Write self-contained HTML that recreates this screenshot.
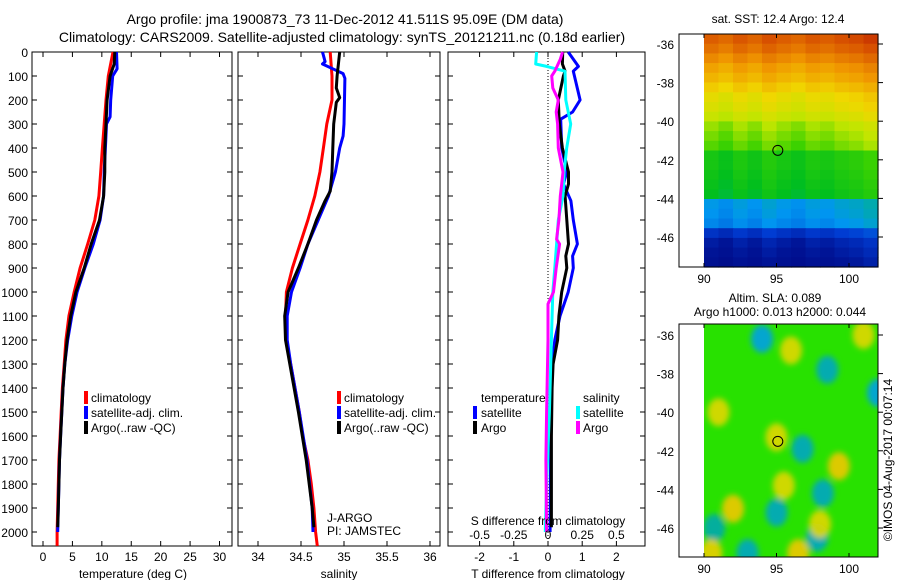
<!DOCTYPE html>
<html><head><meta charset="utf-8"><style>
html,body{margin:0;padding:0;background:#fff;}
svg{display:block;font-family:"Liberation Sans",sans-serif;}
</style></head><body>
<svg id="c" width="900" height="580" viewBox="0 0 900 580">
<defs><filter id="blur" x="-50%" y="-50%" width="200%" height="200%"><feGaussianBlur stdDeviation="3"/></filter></defs>
<text x="345" y="24" font-size="14" text-anchor="middle">Argo profile: jma 1900873_73 11-Dec-2012 41.511S 95.09E (DM data)</text>
<text x="342" y="42" font-size="14" text-anchor="middle">Climatology: CARS2009. Satellite-adjusted climatology: synTS_20121211.nc (0.18d earlier)</text>
<text x="778" y="23" font-size="12" text-anchor="middle">sat. SST: 12.4 Argo: 12.4</text>
<text x="775" y="302" font-size="12" text-anchor="middle">Altim. SLA: 0.089</text>
<text x="780" y="316" font-size="12" text-anchor="middle">Argo h1000: 0.013 h2000: 0.044</text>
<text transform="translate(892,460) rotate(-90)" font-size="12" text-anchor="middle">©IMOS 04-Aug-2017 00:07:14</text>
<g id="plots"></g>
</svg>
<script>
// ---------- data ----------
const tempClimDepth=[0,100,200,300,400,500,600,700,800,900,1000,1100,1200,1300,1400,1500,1600,1700,1800,1900,2000,2058];
const tempClim=[11.9,11.1,10.7,10.4,10.1,9.8,9.5,8.8,7.6,6.3,5.3,4.4,3.9,3.6,3.3,3.1,2.9,2.7,2.6,2.5,2.4,2.4];
const tempSatDepth=[0,70,100,200,270,300,400,500,600,700,800,900,1000,1100,1200,1300,1400,1500,1600,1700,1800,1900,2000];
const tempSat=[12.5,12.6,11.85,11.5,11.4,10.8,10.6,10.4,10.3,9.7,8.55,7.1,5.8,4.9,4.2,3.7,3.4,3.2,3.0,2.8,2.7,2.6,2.5];
const tempArgoDepth=[0,50,100,200,300,400,500,600,700,800,900,1000,1100,1200,1300,1400,1500,1600,1700,1800,1900,1980];
const tempArgo=[12.2,12.1,11.4,10.9,10.7,10.5,10.5,10.3,9.6,8.2,7.0,5.6,4.7,4.1,3.7,3.4,3.2,3.0,2.8,2.7,2.6,2.5];
const salClimDepth=[0,100,200,300,400,500,600,700,800,900,1000,1100,1200,1300,1400,1500,1600,1700,1800,1900,2000,2058];
const salClim=[34.84,34.86,34.86,34.80,34.76,34.72,34.66,34.58,34.49,34.40,34.33,34.32,34.33,34.38,34.43,34.48,34.52,34.58,34.62,34.65,34.67,34.69];
const salSatDepth=[0,40,50,70,90,110,300,350,400,500,600,700,800,900,1000,1100,1200,1300,1500,1700,1900,2000];
const salSat=[34.75,34.78,34.75,34.87,34.99,35.01,35.0,34.99,34.95,34.9,34.82,34.70,34.58,34.49,34.39,34.34,34.34,34.38,34.48,34.57,34.63,34.64];
const salArgoDepth=[0,100,150,190,210,300,400,500,580,620,700,800,900,1000,1100,1200,1300,1500,1700,1900,1980];
const salArgo=[34.95,34.92,34.91,34.95,34.91,34.88,34.87,34.86,34.84,34.78,34.68,34.58,34.47,34.35,34.31,34.32,34.37,34.47,34.56,34.63,34.65];
const dTSatDepth=[0,60,80,200,250,280,400,500,550,620,700,800,850,900,1000,1100,1200,1300,1500,1800,2000];
const dTSat=[0.59,0.89,0.74,0.94,0.72,0.37,0.40,0.55,0.45,0.67,0.74,0.86,0.72,0.74,0.59,0.35,0.20,0.12,0.09,0.07,0.06];
const dTArgoDepth=[0,50,80,100,200,300,400,500,550,600,700,800,850,900,1000,1100,1200,1300,1400,1600,1980];
const dTArgo=[0.43,0.42,0.5,0.45,0.3,0.33,0.42,0.6,0.6,0.5,0.55,0.6,0.52,0.55,0.4,0.32,0.28,0.15,0.12,0.1,0.1];
const dSSatDepth=[0,50,60,80,200,300,400,500,600,700,800,900,1000,1100,1200,1500,1800,2000];
const dSSat=[-0.083,-0.09,-0.01,0.124,0.13,0.166,0.137,0.118,0.11,0.075,0.063,0.05,0.035,0.03,0.025,0.01,-0.01,-0.02];
const dSArgoDepth=[0,30,80,100,150,200,250,300,400,500,550,600,700,780,800,900,1000,1050,1200,1500,1700,2000];
const dSArgo=[0.107,0.09,0.05,0.027,0.035,0.075,0.06,0.07,0.075,0.11,0.1,0.09,0.08,0.063,0.085,0.06,0.04,0.0,0.0,-0.01,-0.015,-0.01];
const depthTicks=[0,100,200,300,400,500,600,700,800,900,1000,1100,1200,1300,1400,1500,1600,1700,1800,1900,2000];
const tempTicks=[0,5,10,15,20,25,30];
const salTicks=[34,34.5,35,35.5,36];
const salTickLabels=["34","34.5","35","35.5","36"];
const dTTicks=[-2,-1,0,1,2];
const dSTicks=[-0.5,-0.25,0,0.25,0.5];
const dSTickLabels=["-0.5","-0.25","0","0.25","0.5"];
// SST map: latitude bands (-35.5 .. -47.5, 0.5 deg) and column perturbations (deg C)
const sstRows=[17.2,16.9,16.5,16.1,15.8,15.4,15.0,14.8,14.5,14.1,13.9,13.7,13.0,13.0,12.9,12.8,12.7,11.1,11.0,10.8,9.5,9.0,8.8,8.6];
const sstColOffset=[0.0,-0.2,0.1,-0.1,0.2,0.0,-0.15,0.1,0.0,0.2,0.3,0.5];
const mapLons=[90,95,100];
const mapLats=[-36,-38,-40,-42,-44,-46];
const slaLon=[94,98.5,102,96.8,98.2,95,97.8,93,90.7,92,95,99.3,95.5,91,96,96.5,98,101,90.5];
const slaLat=[-36.2,-37.8,-39,-41.9,-44.2,-45.2,-46.5,-47.3,-46,-45,-41.3,-42.8,-43.8,-40,-36.8,-47.3,-45.8,-36,-47.3];
const slaVal=[-0.25,-0.15,-0.25,-0.15,-0.15,-0.15,-0.15,-0.15,-0.12,0.2,0.15,0.2,0.15,0.15,0.15,0.2,0.15,0.15,0.18];

// ---------- drawing ----------
const NS='http://www.w3.org/2000/svg';
const root=document.getElementById('plots');
function mk(tag,attrs,parent){const e=document.createElementNS(NS,tag);for(const k in attrs)e.setAttribute(k,attrs[k]);(parent||root).appendChild(e);return e;}
const Y0=52, Y1=546;
const yD=d=>Y0+d*0.24;
function linX(d0,d1,p0,p1){return v=>p0+(v-d0)*(p1-p0)/(d1-d0);}
const xT=linX(0,30,43,219.5);
const xS=linX(34,36,258,430);
const xDT=linX(0,2,548,616.4);
const xDS=linX(0,0.5,548,616.4);
function frame(x0,x1,name){
  const r=mk('rect',{x:x0,y:Y0,width:x1-x0,height:Y1-Y0,fill:'none',stroke:'#000','stroke-width':1});
  
  
  depthTicks.forEach(d=>{mk('line',{x1:x0,x2:x0+5,y1:yD(d),y2:yD(d),stroke:'#000'});mk('line',{x1:x1,x2:x1-5,y1:yD(d),y2:yD(d),stroke:'#000'});});
}
function series(xs,ds,fx,color,name){
  const pts=xs.map((v,i)=>fx(v).toFixed(1)+','+yD(ds[i]).toFixed(1)).join(' ');
  const p=mk('polyline',{points:pts,fill:'none',stroke:color,'stroke-width':3,'stroke-linejoin':'round'});
  
  
}
function xticks(ticks,labels,fx,x0,x1,ly,name,both){
  ticks.forEach((t,i)=>{const x=fx(t);
    if(both){mk('line',{x1:x,x2:x,y1:Y1,y2:Y1-5,stroke:'#000'});mk('line',{x1:x,x2:x,y1:Y0,y2:Y0+5,stroke:'#000'});}
    const tx=mk('text',{x:x,y:ly,'font-size':12,'text-anchor':'middle'});tx.textContent=labels[i];
    
    
  });
}
function label(x,y,txt,name,anchor,size){const t=mk('text',{x:x,y:y,'font-size':size||12,'text-anchor':anchor||'start'});t.textContent=txt;
  
  }
function legendBar(x,y,color,name){const r=mk('rect',{x:x,y:y-11,width:4,height:13,fill:color});
  
  }

// panel 1: temperature
frame(32,232,'temperature-axes');
depthTicks.forEach(d=>label(28,yD(d)+5,String(d),'depth-tick-label','end'));
series(tempClim,tempClimDepth,xT,'#f00','temp-climatology-line');
series(tempSat,tempSatDepth,xT,'#00f','temp-satellite-line');
series(tempArgo,tempArgoDepth,xT,'#000','temp-argo-line');
xticks(tempTicks,tempTicks.map(String),xT,32,232,561,'temperature',true);
label(133,578,'temperature (deg C)','temperature-axis-title','middle');
[['#f00','climatology'],['#00f','satellite-adj. clim.'],['#000','Argo(..raw -QC)']].forEach((l,i)=>{legendBar(84,402+i*15,l[0],'temp-legend-swatch');label(91,402+i*15,l[1],'temp-legend-entry');});

// panel 2: salinity
frame(238,440,'salinity-axes');
series(salClim,salClimDepth,xS,'#f00','sal-climatology-line');
series(salSat,salSatDepth,xS,'#00f','sal-satellite-line');
series(salArgo,salArgoDepth,xS,'#000','sal-argo-line');
xticks(salTicks,salTickLabels,xS,238,440,561,'salinity',true);
label(339,578,'salinity','salinity-axis-title','middle');
[['#f00','climatology'],['#00f','satellite-adj. clim.'],['#000','Argo(..raw -QC)']].forEach((l,i)=>{legendBar(337,402+i*15,l[0],'sal-legend-swatch');label(344,402+i*15,l[1],'sal-legend-entry');});
label(327,522,'J-ARGO','data-center-label');
label(327,535,'PI: JAMSTEC','pi-label');

// panel 3: differences
frame(448,645,'difference-axes');
mk('line',{x1:xDT(0),x2:xDT(0),y1:Y0,y2:Y1,stroke:'#000','stroke-dasharray':'1,2'});
series(dTSat,dTSatDepth,xDT,'#00f','dT-satellite-line');
series(dTArgo,dTArgoDepth,xDT,'#000','dT-argo-line');
series(dSSat,dSSatDepth,xDS,'#0ff','dS-satellite-line');
series(dSArgo,dSArgoDepth,xDS,'#f0f','dS-argo-line');
xticks(dTTicks,dTTicks.map(String),xDT,448,645,561,'t-difference',true);
xticks(dSTicks,dSTickLabels,xDS,448,645,539,'s-difference',false);
label(548,525,'S difference from climatology','s-difference-title','middle');
label(548,578,'T difference from climatology','t-difference-title','middle');
label(481,402,'temperature','legend-temperature-header');
label(583,402,'salinity','legend-salinity-header');
legendBar(473,417,'#00f','dT-sat-swatch');label(481,417,'satellite','legend-entry');
legendBar(473,432,'#000','dT-argo-swatch');label(481,432,'Argo','legend-entry');
legendBar(576,417,'#0ff','dS-sat-swatch');label(583,417,'satellite','legend-entry');
legendBar(576,432,'#f0f','dS-argo-swatch');label(583,432,'Argo','legend-entry');

// colour maps
function ramp(stops,t){t=Math.max(0,Math.min(1,t));
  for(let i=1;i<stops.length;i++){if(t<=stops[i][0]){const a=stops[i-1],b=stops[i],f=(t-a[0])/(b[0]-a[0]);
    return 'rgb('+[1,2,3].map(k=>Math.round(a[k]+(b[k]-a[k])*f)).join(',')+')';}}
  const l=stops[stops.length-1];return 'rgb('+l[1]+','+l[2]+','+l[3]+')';}
const sstStops=[[0,0,0,120],[0.12,0,20,150],[0.2,0,60,210],[0.32,0,150,240],[0.4,0,180,140],[0.47,0,190,30],[0.55,60,210,0],[0.62,190,230,0],[0.7,240,215,0],[0.8,240,150,0],[0.9,215,80,0],[1,170,0,0]];
const slaStops=[[0,0,160,230],[0.25,0,170,160],[0.5,40,225,0],[0.75,210,230,0],[1,240,200,0]];
const sstT=v=>(v-7.5)/11;
const slaT=v=>0.5+v/0.4;
const lonX=linX(90,100,704,849);
// top SST map
const sTop=34, sBot=267, latYs=linX(-36,-46,44,237);
const g1=mk('g',{});


const cw=(878-704)/sstColOffset.length, rh=(sBot-sTop)/sstRows.length;
sstRows.forEach((v,i)=>sstColOffset.forEach((o,j)=>{
  const c=mk('rect',{x:(704+j*cw).toFixed(1),y:(sTop+i*rh).toFixed(1),width:(cw+0.6).toFixed(1),height:(rh+0.6).toFixed(1),fill:ramp(sstStops,sstT(v+o))},g1);
  
  
}));
// bottom SLA map
const bTop=324,bBot=557,latYb=linX(-36,-46,335,528);
const g2=mk('g',{});


const bg=mk('rect',{x:704,y:bTop,width:174,height:bBot-bTop,fill:ramp(slaStops,slaT(0))},g2);


const clip=mk('clipPath',{id:'slaclip'});mk('rect',{x:704,y:bTop,width:174,height:bBot-bTop},clip);
const gc=mk('g',{'clip-path':'url(#slaclip)'},g2);
const gb=mk('g',{filter:'url(#blur)'},gc);
slaLon.forEach((lo,i)=>{const e=mk('ellipse',{cx:lonX(lo),cy:latYb(slaLat[i]),rx:11,ry:14,fill:ramp(slaStops,slaT(slaVal[i])),opacity:0.9},gb);
  
  });
// frames, ticks, markers for both maps
[[sTop,sBot,latYs,'sst'],[bTop,bBot,latYb,'sla']].forEach(m=>{
  const [t,b,ly,n]=m;
  mk('rect',{x:679,y:t,width:199,height:b-t,fill:'none',stroke:'#000'});
  mapLats.forEach(la=>{mk('line',{x1:878,x2:883,y1:ly(la),y2:ly(la),stroke:'#000'});label(674,ly(la)+5,String(la),n+'-lat-tick-label','end');});
  mapLons.forEach(lo=>{mk('line',{x1:lonX(lo),x2:lonX(lo),y1:b,y2:b-4,stroke:'#000'});mk('line',{x1:lonX(lo),x2:lonX(lo),y1:t,y2:t+4,stroke:'#000'});label(lonX(lo),b+16,String(lo),n+'-lon-tick-label','middle');});
  const c=mk('circle',{cx:lonX(95.09),cy:ly(-41.511),r:5,fill:'none',stroke:'#000'});
  
  
});
</script>
</body></html>
